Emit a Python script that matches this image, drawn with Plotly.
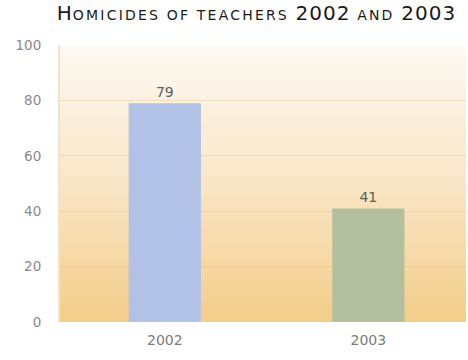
import base64
import plotly.graph_objects as go

# Homicides of teachers by year
years = ["2002", "2003"]
homicides = [79, 41]
bar_colors = ["#b2c2e6", "#b3bf9e"]
y_ticks = [0, 20, 40, 60, 80, 100]

FONT = "DejaVu Sans, sans-serif"

fig = go.Figure()
fig.add_trace(go.Bar(
    x=years, y=homicides,
    marker=dict(color=bar_colors, line=dict(width=0)),
    width=0.355,
    text=[str(v) for v in homicides],
    textposition="outside",
    textfont=dict(family=FONT, size=14, color="#5e5e5e"),
    cliponaxis=False,
    hoverinfo="x+y",
))

# smooth cream-to-apricot gradient behind the plotting area
svg = (
    "<svg xmlns='http://www.w3.org/2000/svg' width='100' height='100' "
    "preserveAspectRatio='none' viewBox='0 0 100 100'>"
    "<defs><linearGradient id='g' x1='0' y1='0' x2='0' y2='1'>"
    "<stop offset='0' stop-color='#fdf9f3'/>"
    "<stop offset='0.5' stop-color='#f9e6c6'/>"
    "<stop offset='1' stop-color='#f3cd8a'/>"
    "</linearGradient></defs>"
    "<rect width='100' height='100' fill='url(#g)'/></svg>"
)
bg_src = "data:image/svg+xml;base64," + base64.b64encode(svg.encode()).decode()

big = "font-size:20px;letter-spacing:1px"
small = "letter-spacing:2.2px"
title_html = (
    f"<span style='{big}'>H</span><span style='{small}'>OMICIDES OF TEACHERS </span>"
    f"<span style='{big}'>2002</span><span style='{small}'> AND </span>"
    f"<span style='{big}'>2003</span>"
)

fig.update_layout(
    width=468, height=360,
    margin=dict(l=60, r=2, t=45, b=38),
    paper_bgcolor="white",
    plot_bgcolor="rgba(0,0,0,0)",
    images=[dict(
        source=bg_src, xref="paper", yref="paper", x=0, y=1,
        sizex=1, sizey=1, xanchor="left", yanchor="top",
        sizing="stretch", layer="below",
    )],
    showlegend=False,
    title=dict(
        text=title_html, x=0.548, xanchor="center", y=0.958, yanchor="middle",
        font=dict(family=FONT, size=14, color="#1a1a1a"),
    ),
    xaxis=dict(
        range=[-0.515, 1.48], showgrid=False, zeroline=False,
        showline=False, ticks="", ticklabelstandoff=8,
        tickfont=dict(family=FONT, size=14, color="#7c7c7c"),
    ),
    yaxis=dict(
        range=[0, 100], tickvals=y_ticks,
        showgrid=True, gridcolor="rgba(225,185,125,0.35)", gridwidth=1,
        zeroline=False, showline=True, linecolor="#efe3cc", linewidth=2,
        ticks="", ticklabelstandoff=14,
        tickfont=dict(family=FONT, size=13.5, color="#8a8a8a"),
    ),
)

fig.write_html("out.html")
